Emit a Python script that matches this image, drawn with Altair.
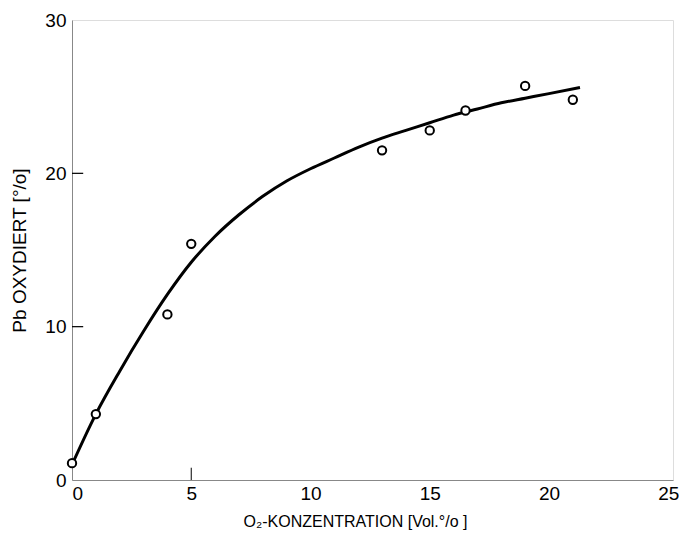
import altair as alt
import pandas as pd

# measured points
pt_x = [0, 1, 4, 5, 13, 15, 16.5, 19, 21]
pt_y = [1.1, 4.3, 10.8, 15.4, 21.5, 22.8, 24.1, 25.7, 24.8]

# fitted curve
curve_x = [0, 1, 2, 3, 4, 5, 6, 7, 8, 9, 10, 11, 12, 13, 14, 15, 16, 17, 18, 19, 20, 21.3]
curve_y = [1.0, 4.3, 7.1, 9.7, 12.1, 14.2, 15.9, 17.3, 18.5, 19.5, 20.3, 21.0, 21.7, 22.3, 22.8, 23.3, 23.8, 24.2, 24.6, 24.9, 25.2, 25.6]

x_ticks = [0, 5, 10, 15, 20, 25]
y_ticks = [0, 10, 20, 30]
inner_y_ticks = [10, 20]
inner_x_ticks = [5]

pts = pd.DataFrame({"x": pt_x, "y": pt_y})
curve = pd.DataFrame({"x": curve_x, "y": curve_y})

ytk_df = pd.DataFrame({"y": inner_y_ticks})
xtk_df = pd.DataFrame({"x": inner_x_ticks})

W, H = 601, 460
xs = alt.Scale(domain=[0, 25.2], nice=False, zero=False)
ys = alt.Scale(domain=[0, 30], nice=False)

x_axis = alt.Axis(values=x_ticks, title="O₂-KONZENTRATION [Vol.°/o ]", labelFontSize=19, grid=False, ticks=False,
                  titleFontSize=16, titleFontWeight="normal", titlePadding=10, labelPadding=4,
                  titleX=283, titleAlign="center")
y_axis = alt.Axis(values=y_ticks, title="Pb OXYDIERT [°/o]", labelFontSize=19, grid=False, ticks=False,
                  titleFontSize=19, titleFontWeight="normal", titlePadding=15, labelPadding=6)

line = alt.Chart(curve).mark_line(color="black", strokeWidth=3, interpolate="monotone").encode(
    x=alt.X("x:Q", scale=xs, axis=x_axis),
    y=alt.Y("y:Q", scale=ys, axis=y_axis),
)

points = alt.Chart(pts).mark_point(shape="circle", size=70, filled=True, fill="white",
                                   stroke="black", strokeWidth=2, opacity=1).encode(
    x=alt.X("x:Q", scale=xs, axis=x_axis),
    y=alt.Y("y:Q", scale=ys, axis=y_axis),
)

# inward ticks on the left axis, drawn as thin rects
ytk = alt.Chart(ytk_df).transform_calculate(
    ya="datum.y - 0.04", yb="datum.y + 0.04", xa="0", xb="0.47"
).mark_rect(color="black", opacity=1).encode(
    x=alt.X("xa:Q", scale=xs, axis=x_axis),
    x2="xb:Q",
    y=alt.Y("ya:Q", scale=ys, axis=y_axis),
    y2="yb:Q",
)

# inward tick on the bottom axis
xtk = alt.Chart(xtk_df).transform_calculate(
    ya="0", yb="0.8"
).mark_rule(color="black", strokeWidth=1).encode(
    x=alt.X("x:Q", scale=xs, axis=x_axis),
    y=alt.Y("ya:Q", scale=ys, axis=y_axis),
    y2="yb:Q",
)

chart = alt.layer(line, points, xtk, ytk).properties(
    width=W, height=H,
    autosize=alt.AutoSizeParams(type="none"),
    padding={"left": 64, "top": 12, "right": 6, "bottom": 54},
).configure_view(strokeWidth=0).configure_axis(
    grid=False, ticks=False, domainColor="black", domainWidth=1.5,
    labelColor="black", titleColor="black", labelFont="Liberation Sans",
    titleFont="DejaVu Sans",
).configure(background="white")

chart.save("out.html", embed_options={"renderer": "svg", "actions": False})
